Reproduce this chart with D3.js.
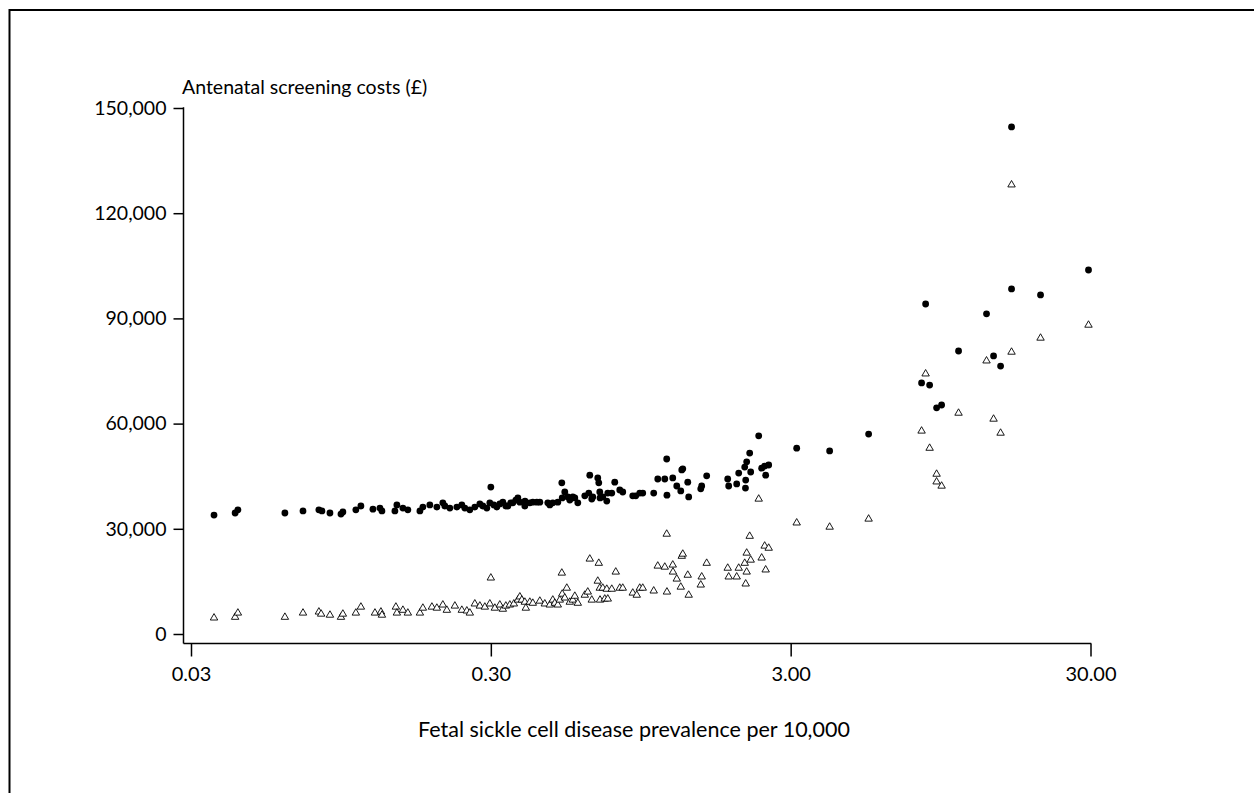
<!DOCTYPE html>
<html>
<head>
<meta charset="utf-8">
<script src="https://cdn.jsdelivr.net/npm/d3@7"></script>
<style>
  body { margin: 0; background: #fff; }
  svg { display: block; font-family: Lato, "Open Sans", sans-serif; }
</style>
</head>
<body>
<div id="chart"></div>
<script>
// filled circles
const circlePrevalence = [
  0.0358, 0.0421, 0.0430, 0.0617, 0.0709, 0.0801, 0.0820, 0.0872, 0.0949, 0.0963,
  0.1064, 0.1106, 0.1213, 0.1280, 0.1300, 0.1436, 0.1458, 0.1527, 0.1586, 0.1740,
  0.1780, 0.1878, 0.1982, 0.2075, 0.2107, 0.2190, 0.2311, 0.2401, 0.2457, 0.2553,
  0.2653, 0.2757, 0.2821, 0.2909, 0.2977, 0.300, 0.3070, 0.3141, 0.3214, 0.3290,
  0.3366, 0.3418, 0.3498, 0.3552, 0.3635, 0.3692, 0.3749, 0.3895, 0.390, 0.4047,
  0.4141, 0.4270, 0.4370, 0.4646, 0.4718, 0.4828, 0.5017, 0.5174, 0.519, 0.5294,
  0.5417, 0.5501, 0.5630, 0.5717, 0.5850, 0.6173, 0.6365, 0.6414, 0.6513, 0.6563,
  0.6820, 0.6873, 0.6926, 0.694, 0.7087, 0.7308, 0.7364, 0.7594, 0.7770, 0.8075,
  0.8262, 0.8922, 0.9129, 0.9414, 0.9633, 1.048, 1.081, 1.141, 1.158, 1.16,
  1.213, 1.251, 1.290, 1.300, 1.310, 1.361, 1.371, 1.504, 1.515, 1.574,
  1.850, 1.864, 1.982, 2.013, 2.108, 2.124, 2.12, 2.140, 2.190, 2.207,
  2.347, 2.401, 2.457, 2.476, 2.534, 3.142, 4.047, 5.459, 8.199, 8.457,
  8.721, 9.201, 9.561, 10.89, 13.50, 14.25, 15.04, 16.36, 16.36, 20.44, 29.54
];
const circleCost = [
  33900, 34500, 35400, 34500, 35100, 35400, 35100, 34500, 34200, 34800,
  35400, 36500, 35600, 35900, 35100, 35100, 36800, 35900, 35400, 35100,
  36200, 36800, 36200, 37400, 36500, 35900, 36200, 36800, 35900, 35400,
  36200, 37100, 36500, 35900, 37400, 41900, 36800, 36200, 37100, 37600,
  36500, 36500, 37400, 37400, 38200, 38800, 37600, 36500, 37900, 37400,
  37600, 37600, 37600, 37400, 36800, 37400, 37600, 43100, 38800, 40500,
  39100, 38200, 39100, 38800, 37400, 39400, 40200, 45300, 38500, 39100,
  44500, 43100, 40500, 38800, 39100, 37900, 40200, 40200, 43300, 41100,
  40500, 39400, 39400, 40200, 40200, 40200, 44200, 44200, 49900, 39600,
  44500, 42200, 40800, 46800, 47100, 43300, 39100, 41400, 42200, 45100,
  44200, 42200, 42800, 45900, 47600, 43900, 41600, 49100, 51600, 46200,
  56500, 47300, 47900, 45300, 48200, 53000, 52200, 57000, 71600, 94100,
  71000, 64500, 65300, 80700, 91300, 79300, 76400, 144600, 98400, 96700, 103800
];

// open triangles
const trianglePrevalence = [
  0.0358, 0.0421, 0.0430, 0.0617, 0.0709, 0.0801, 0.0815, 0.0872, 0.0949, 0.0963,
  0.1064, 0.1106, 0.1232, 0.1290, 0.1300, 0.1447, 0.1458, 0.1527, 0.1586, 0.1740,
  0.1780, 0.1908, 0.1982, 0.2075, 0.2140, 0.2276, 0.2401, 0.2495, 0.2553, 0.2653,
  0.2757, 0.2865, 0.2977, 0.300, 0.3094, 0.3214, 0.3290, 0.3366, 0.3471, 0.3580,
  0.3692, 0.3749, 0.3806, 0.3895, 0.3925, 0.4047, 0.4141, 0.4370, 0.4541, 0.4718,
  0.4828, 0.4903, 0.5017, 0.5095, 0.5174, 0.519, 0.5294, 0.5376, 0.5501, 0.5630,
  0.5717, 0.5850, 0.6173, 0.6316, 0.6414, 0.6513, 0.6820, 0.6873, 0.6926, 0.694,
  0.7087, 0.7196, 0.7308, 0.7364, 0.7594, 0.7830, 0.8075, 0.8262, 0.8922, 0.920,
  0.9414, 0.9633, 1.048, 1.081, 1.141, 1.158, 1.16, 1.213, 1.215, 1.251,
  1.290, 1.300, 1.310, 1.361, 1.371, 1.504, 1.515, 1.574, 1.850, 1.864,
  1.982, 2.013, 2.108, 2.124, 2.140, 2.14, 2.190, 2.207, 2.347, 2.401,
  2.457, 2.476, 2.534, 3.142, 4.047, 5.459, 8.199, 8.457, 8.721, 9.201,
  9.20, 9.561, 10.89, 13.50, 14.25, 15.04, 16.36, 16.36, 20.44, 29.54
];
const triangleCost = [
  4600, 4800, 6000, 4800, 6000, 6300, 5700, 5400, 4800, 5700,
  6000, 7700, 6000, 6300, 5400, 7700, 6000, 6800, 6000, 6000,
  7400, 7700, 7400, 8300, 6800, 8000, 6800, 6600, 6000, 8600,
  8000, 7700, 8600, 16000, 7400, 8300, 7100, 8000, 8300, 8600,
  9700, 10600, 9700, 9100, 7400, 9100, 8800, 9400, 8600, 8300,
  9700, 8800, 8300, 9700, 17400, 11400, 10300, 13100, 9100, 9700,
  10800, 8800, 11100, 12000, 21400, 9700, 15100, 20200, 13100, 9700,
  13100, 10000, 12800, 10000, 12800, 17700, 13100, 13100, 11700, 11100,
  13100, 13100, 12300, 19400, 19100, 28500, 12000, 19700, 17700, 15700,
  13400, 22200, 22800, 16800, 11100, 14000, 16300, 20200, 18800, 16300,
  16300, 18800, 20200, 14300, 23100, 17700, 27900, 21100, 38500, 21700,
  25100, 18300, 24500, 31700, 30500, 32800, 57900, 74200, 53000, 45600,
  43400, 42200, 63000, 77900, 61300, 57300, 128100, 80400, 84400, 88100
];

const xTicks = [0.03, 0.3, 3, 30];
const xTickLabels = ["0.03", "0.30", "3.00", "30.00"];
const yTicks = [0, 30000, 60000, 90000, 120000, 150000];
const yTickLabels = ["0", "30,000", "60,000", "90,000", "120,000", "150,000"];

const width = 1254, height = 793;

const x = d3.scaleLog().domain([0.03, 30]).range([191, 1090.5]);
const y = d3.scaleLinear().domain([0, 150000]).range([634, 108]);
const axisY = 643.5, axisX = 183.5;

const svg = d3.select("#chart")
  .append("svg")
  .attr("width", width)
  .attr("height", height);

// outer frame (right and bottom edges fall outside the page)
svg.append("rect")
  .attr("x", 9.5)
  .attr("y", 10)
  .attr("width", 1300)
  .attr("height", 900)
  .attr("fill", "none")
  .attr("stroke", "#000")
  .attr("stroke-width", 2);

// y axis
const gy = svg.append("g")
  .attr("transform", `translate(${axisX},0)`)
  .call(d3.axisLeft(y).tickValues(yTicks).tickSize(10).tickPadding(7)
    .tickFormat((d, i) => yTickLabels[i]));
gy.select(".domain").remove();
gy.selectAll(".tick line").attr("stroke-width", 1.5);
gy.selectAll(".tick text").attr("font-size", 19.5).attr("fill", "#000").attr("font-family", "Lato");
gy.append("line")
  .attr("x1", 0).attr("x2", 0)
  .attr("y1", y(150000) - 0.75).attr("y2", axisY)
  .attr("stroke", "#000").attr("stroke-width", 1.5);

// x axis
const gx = svg.append("g")
  .attr("transform", `translate(0,${axisY})`)
  .call(d3.axisBottom(x).tickValues(xTicks).tickSize(13).tickPadding(10)
    .tickFormat((d, i) => xTickLabels[i]));
gx.select(".domain").remove();
gx.selectAll(".tick line").attr("stroke-width", 1.5);
gx.selectAll(".tick text").attr("font-size", 20).attr("fill", "#000").attr("font-family", "Lato");
gx.append("line")
  .attr("x1", axisX).attr("x2", x(30) + 0.75)
  .attr("y1", 0).attr("y2", 0)
  .attr("stroke", "#000").attr("stroke-width", 1.5);

// titles
svg.append("text")
  .attr("x", 182)
  .attr("y", 94)
  .attr("font-size", 19.5)
  .text("Antenatal screening costs (£)");

svg.append("text")
  .attr("x", 634)
  .attr("y", 737)
  .attr("text-anchor", "middle")
  .attr("font-size", 21.5)
  .text("Fetal sickle cell disease prevalence per 10,000");

// points
svg.append("g")
  .selectAll("circle")
  .data(d3.zip(circlePrevalence, circleCost))
  .join("circle")
  .attr("cx", d => x(d[0]))
  .attr("cy", d => y(d[1]))
  .attr("r", 3.4)
  .attr("fill", "#000");

const tri = d3.symbol().type(d3.symbolTriangle).size(24);
svg.append("g")
  .selectAll("path")
  .data(d3.zip(trianglePrevalence, triangleCost))
  .join("path")
  .attr("transform", d => `translate(${x(d[0])},${y(d[1])})`)
  .attr("d", tri)
  .attr("fill", "#fff")
  .attr("stroke", "#000")
  .attr("stroke-width", 0.9);
</script>
</body>
</html>
